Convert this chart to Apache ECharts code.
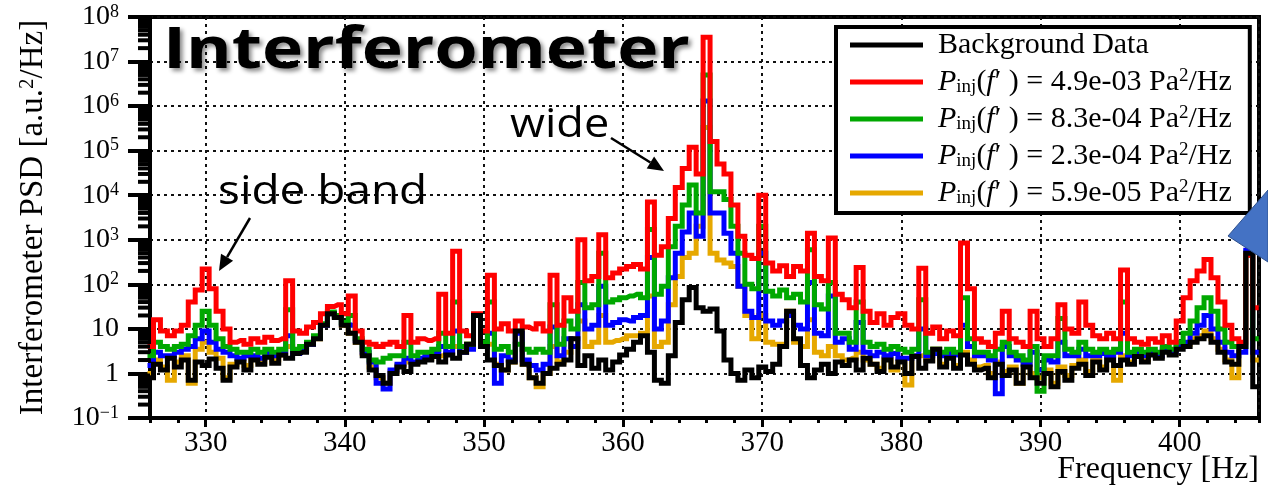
<!DOCTYPE html>
<html>
<head>
<meta charset="utf-8">
<script src="https://cdn.jsdelivr.net/npm/echarts@6/dist/echarts.min.js"></script>
<style>
html,body{margin:0;padding:0;background:#fff;}
#chart{width:1268px;height:498px;}
</style>
</head>
<body>
<div id="chart"></div>
<script>
// Frequency grid (Hz), 0.5 Hz bins from 326 to 405.5
const freqStart = 326, freqStep = 0.5, nBins = 160;
const freq = Array.from({length: nBins}, (_, i) => freqStart + freqStep * i);

const seriesNames = ['Background Data', '4.9e-03', '8.3e-04', '2.3e-04', '5.9e-05'];

const background = [
0.8,1.6,1.2,2.2,1.4,2.0,0.7,1.8,1.5,2.1,1.3,0.7,1.4,1.8,1.2,2.0,1.6,2.3,1.7,2.6,
2.2,2.8,3.0,4.5,6,12,22,18,12,8,5,2.5,1.2,0.9,0.6,1.0,1.4,1.1,1.6,1.8,
2.0,2.4,1.8,2.6,2.2,3.0,4.5,20,4,2.0,1.5,1.2,1.8,9,1.6,0.8,0.6,1.0,1.3,1.6,
2.0,6,1.5,2.5,1.3,2.0,1.2,1.8,2.6,3.5,5,7,3,0.7,0.6,2.5,14,45,85,30,
25,28,9,2.0,1.0,0.7,1.2,0.8,1.4,1.1,1.6,4,25,6,1.5,0.8,1.2,1.6,1.0,1.8,
1.5,2.0,1.2,2.2,1.6,1.1,2.0,1.4,1.8,1.0,2.4,1.3,1.9,3.5,1.4,2.2,1.3,2.6,1.6,1.2,
1.3,0.8,1.6,0.9,1.2,0.6,1.4,0.8,0.6,1.0,0.5,1.1,0.7,1.3,1.6,0.9,1.8,1.2,2.0,1.5,
2.0,1.6,2.4,1.8,2.6,2.2,3.0,2.6,3.5,4,5,6,7,5,3,1.8,1.6,4,500,0.5
];

const injRed = [
4,16,9,7,9,12,40,75,220,80,25,10,5,5.5,4.5,6,5,6.5,5.5,6,
120,9,8,11,14,22,32,35,22,55,9,5,4.5,4,4.5,5,4,20,5,6,
5.5,6,60,8,550,9,7,22,9,160,10,13,9,15,11,10,13,9,160,12,
50,25,1000,120,150,1300,140,180,220,250,280,220,7000,450,700,3000,15000,40000,120000,30000,
35000000,160000,50000,30000,6000,1200,450,380,10000,300,200,260,150,250,200,1400,150,120,1100,60,
45,30,240,25,14,22,12,18,22,12,10,230,8,11,6,9,7,850,80,6,
5,4,8,25,6,5,4,25,6,4,6,35,10,8,40,12,7,6,8,6,
210,6,5,4.5,6,5,7,5,15,50,120,200,360,140,40,12,6,5,450,30
];

const injGreen = [
2.5,5,4,3.5,4,4.5,7,12,25,12,6,4,3.5,3,3,3.5,3,3.5,3,3.5,
27,3.5,4,5,7,13,24,20,14,20,6,3.5,2,1.8,2.2,2.5,2.5,5,2.5,3,
3,3.5,8,4,40,4,4.5,20,5,40,3.5,4,3,4.5,3.5,3,3.5,3,35,4.5,
15,10,110,30,35,500,40,45,50,55,60,50,1700,60,90,700,2000,6000,17000,4000,
5000000,12000,12000,8000,2000,500,100,80,2000,70,55,75,50,60,40,600,35,28,110,8,
8,5,40,5,4,4.5,3.5,4,3.5,3,3.5,45,3,3.5,3,3.5,3,50,6,3,
3,2.5,3.5,5,3,2.5,2,4,0.4,2.5,2.5,17,3.5,3,5,3.5,3,3.5,3,3.5,
40,3,3.5,3,3.5,3,4,3.5,5,8,15,30,50,25,10,5,4,4,450,6
];

const injBlue = [
1.5,3,2.5,2.5,3,3.5,4,6,9,5,3.5,3,2.5,2.2,2.5,2.5,2.2,2.8,2.5,3,
7,2.8,3.5,4.5,6.5,12,22,19,13,12,5.5,3,1.8,0.6,0.45,1.2,1.6,2.2,1.8,2.2,
2.5,2.8,4,3,9,3,3.5,20,4,8,0.6,2.5,2,8,2,1.5,1.2,1.6,11,2.5,
6,4,35,10,12,90,12,14,16,15,18,20,400,10,15,140,500,1500,4000,1200,
1300000,4000,4000,1400,500,90,25,18,500,15,12,15,20,12,10,110,8,7,55,5,
6,3.5,14,3,2.5,3,2.5,2.8,2.2,2.2,2.5,10,2.5,2.8,2.5,2.8,2.6,12,4,2.5,
2.5,2,0.35,4,2.5,2,1.6,3,1.2,2,1.8,5,2.5,2.5,3.5,2.5,2.5,2.8,2.5,3,
8,2.5,3,2.5,3,2.5,3.5,3,4,5,8,12,20,10,5,3,2.5,3,580,3
];

const injYellow = [
1.0,2,1.4,0.7,1.8,2.5,0.6,3.5,5,3,2.2,0.8,1.6,2.0,1.5,2.2,1.8,2.4,2,2.6,
4,2.8,3.2,4.5,6,12,22,18,12,8,5,2.8,1.4,0.8,0.6,1.1,1.5,1.8,1.7,2.0,
2.2,2.5,2.5,2.8,4,3,4.5,20,4.5,4.5,1.6,1.2,1.8,9,1.6,0.8,0.5,1.0,4,1.8,
3,6,15,4,5,20,5,5.5,6,7,7,8,55,4,5,35,150,400,500,2000,
330000,500,350,300,250,90,20,6,20,5,4.5,4.5,25,5,4,16,3,2.5,4,2.5,
2,2.2,3,2,1.6,1.3,2.2,1.2,2,0.55,2.5,2.5,2,3.5,1.6,2.4,1.5,3,2,1.4,
1.5,1.0,1.8,1.1,1.4,0.6,1.6,1.0,0.8,1.2,0.6,1.4,0.9,1.5,2.0,1.1,2.0,1.4,2.2,0.7,
2.5,1.8,2.6,2.0,2.8,2.4,3.2,2.8,4,4.5,6,7,9,6,3.5,2,0.8,4,540,2
];

const seriesColors = ['#000000', '#FF0000', '#00A800', '#0000FF', '#E6A800'];
const seriesValues = [background, injRed, injGreen, injBlue, injYellow];

// y-axis minor tick values (2..9 x decade)
const yMinorMult = [2,3,4,5,6,7,8,9];
const yMinorExp = [-1,0,1,2,3,4,5,6,7];
const yMinorVals = [];
yMinorExp.forEach(e => yMinorMult.forEach(m => yMinorVals.push(m * Math.pow(10, e))));

const serif = '"Liberation Serif", "Times New Roman", serif';

function pairs(vals) { return vals.map((v, i) => [freq[i], v]); }

const chart = echarts.init(document.getElementById('chart'));

const lineSeries = [];
// draw injected series first (red bottom), background last (on top)
[1, 2, 3, 4, 0].forEach(k => {
  lineSeries.push({
    name: seriesNames[k],
    type: 'line',
    step: 'middle',
    showSymbol: false,
    symbol: 'none',
    data: pairs(seriesValues[k]),
    color: seriesColors[k],
    lineStyle: {width: 5, color: seriesColors[k], join: 'miter', cap: 'square'},
    emphasis: {disabled: true},
    animation: false,
    z: 2 + (k === 0 ? 10 : (5 - k))
  });
});

lineSeries.push({
  type: 'custom',
  name: 'yminor',
  silent: true,
  clip: false,
  data: yMinorVals.map(v => [freqStart, v]),
  renderItem: function (params, api) {
    const p = api.coord([api.value(0), api.value(1)]);
    return {type: 'line', shape: {x1: p[0] - 12, y1: p[1], x2: p[0], y2: p[1]}, style: {stroke: '#000', lineWidth: 4}};
  },
  z: 20,
  animation: false
});

function legendFmt(name) {
  if (name === 'Background Data') return '{n|Background Data}';
  return '{i|P}{sub|inj}{n|(}{i|f}{n|′ ) = ' + name + ' Pa}{sup|2}{n|/Hz}';
}

function yFmt(v) {
  const e = Math.round(Math.log10(v));
  if (e === 0) return '{b|1}';
  if (e === 1) return '{b|10}';
  return '{b|10}{s|' + (e < 0 ? '\u2212' + (-e) : e) + '}';
}

function arrowGraphic(x1, y1, x2, y2) {
  const ang = Math.atan2(y2 - y1, x2 - x1);
  const L = 16, W = 7;
  const bx = x2 - L * Math.cos(ang), by = y2 - L * Math.sin(ang);
  const px = -Math.sin(ang) * W, py = Math.cos(ang) * W;
  return [
    {type: 'line', shape: {x1: x1, y1: y1, x2: bx, y2: by}, style: {stroke: '#000', lineWidth: 2.5}, z: 100},
    {type: 'polygon', shape: {points: [[x2, y2], [bx + px, by + py], [bx - px, by - py]]}, style: {fill: '#000'}, z: 100}
  ];
}

const option = {
  backgroundColor: '#fff',
  animation: false,
  grid: {left: 150, right: 9, top: 17, bottom: 80, show: true, borderColor: '#000', borderWidth: 4,
    backgroundColor: 'transparent', containLabel: false, outerBoundsMode: 'none'},
  legend: {
    data: seriesNames,
    orient: 'vertical',
    left: 836,
    top: 27,
    padding: [3, 18, 5, 14],
    itemGap: 7,
    itemWidth: 73,
    itemHeight: 5,
    icon: 'rect',
    backgroundColor: '#fff',
    borderColor: '#000',
    borderWidth: 4,
    selectedMode: false,
    formatter: legendFmt,
    textStyle: {
      fontFamily: serif, fontSize: 30, color: '#000', padding: [0, 0, 0, 10],
      rich: {
        n: {fontFamily: serif, fontSize: 30, lineHeight: 30, color: '#000'},
        i: {fontFamily: serif, fontSize: 30, lineHeight: 30, fontStyle: 'italic', color: '#000'},
        sub: {fontFamily: serif, fontSize: 19, lineHeight: 10, verticalAlign: 'bottom', color: '#000'},
        sup: {fontFamily: serif, fontSize: 19, lineHeight: 14, verticalAlign: 'top', color: '#000'}
      }
    },
    z: 50
  },
  xAxis: [{
    type: 'value', min: 326, max: 405.7, splitNumber: 8,
    axisLine: {show: true, onZero: false, lineStyle: {color: '#000', width: 4}},
    axisTick: {show: true, inside: false, length: 9, lineStyle: {color: '#000', width: 3}},
    axisLabel: {fontFamily: serif, fontSize: 29, color: '#000', margin: 11, showMinLabel: false, showMaxLabel: false,
      formatter: v => (Math.abs(v % 10) < 1e-9 ? String(v) : '')},
    splitLine: {show: true, lineStyle: {color: '#111', width: 2, type: [3, 4]}}
  }, {
    type: 'value', min: 326, max: 405.7, interval: 2, position: 'bottom',
    axisLine: {show: false}, axisLabel: {show: false}, splitLine: {show: false},
    axisTick: {show: true, length: 5, lineStyle: {color: '#000', width: 3}}
  }],
  yAxis: {
    type: 'log', logBase: 10, min: 0.1, max: 1e8,
    name: 'Interferometer PSD [a.u.{s|2}/Hz]', nameLocation: 'middle', nameGap: 100, nameRotate: 90,
    nameTextStyle: {fontFamily: serif, fontSize: 33, color: '#000',
      rich: {s: {fontFamily: serif, fontSize: 21, lineHeight: 16, verticalAlign: 'top', color: '#000'}}},
    axisLine: {show: true, lineStyle: {color: '#000', width: 4}},
    axisTick: {show: true, length: 22, lineStyle: {color: '#000', width: 4}},
    axisLabel: {margin: 31, fontFamily: serif, fontSize: 28, color: '#000', formatter: yFmt,
      rich: {b: {fontFamily: serif, fontSize: 28, lineHeight: 28, color: '#000'},
             s: {fontFamily: serif, fontSize: 18, lineHeight: 16, verticalAlign: 'top', color: '#000'}}},
    splitLine: {show: true, lineStyle: {color: '#111', width: 2, type: [3, 4]}}
  },
  series: lineSeries,
  graphic: [
    {type: 'text', x: 1259, y: 454, z: 90,
      style: {text: 'Frequency [Hz]', font: '32px "Liberation Serif"', fill: '#000', align: 'right', verticalAlign: 'top'}},
    {type: 'text', x: 163, y: 22, scaleX: 1.2, z: 90,
      style: {text: 'Interferometer', font: 'bold 58px "Open Sans"', fill: '#000',
        textShadowColor: 'rgba(0,0,0,0.45)', textShadowBlur: 4, textShadowOffsetX: 3, textShadowOffsetY: 3}},
    {type: 'text', x: 510, y: 105, scaleX: 1.1, z: 90,
      style: {text: 'wide', font: '41px "Open Sans"', fill: '#000'}},
    {type: 'text', x: 218, y: 172, scaleX: 1.12, z: 90,
      style: {text: 'side band', font: '41px "Open Sans"', fill: '#000'}},
    ...arrowGraphic(611, 138, 664, 171),
    ...arrowGraphic(250, 218, 219, 271),
    {type: 'polygon', z: 120, shape: {points: [[1228, 236], [1268, 190], [1268, 262]]},
      style: {fill: '#4472C4', stroke: '#2F528F', lineWidth: 1}}
  ]
};
chart.setOption(option);
</script>
</body>
</html>
